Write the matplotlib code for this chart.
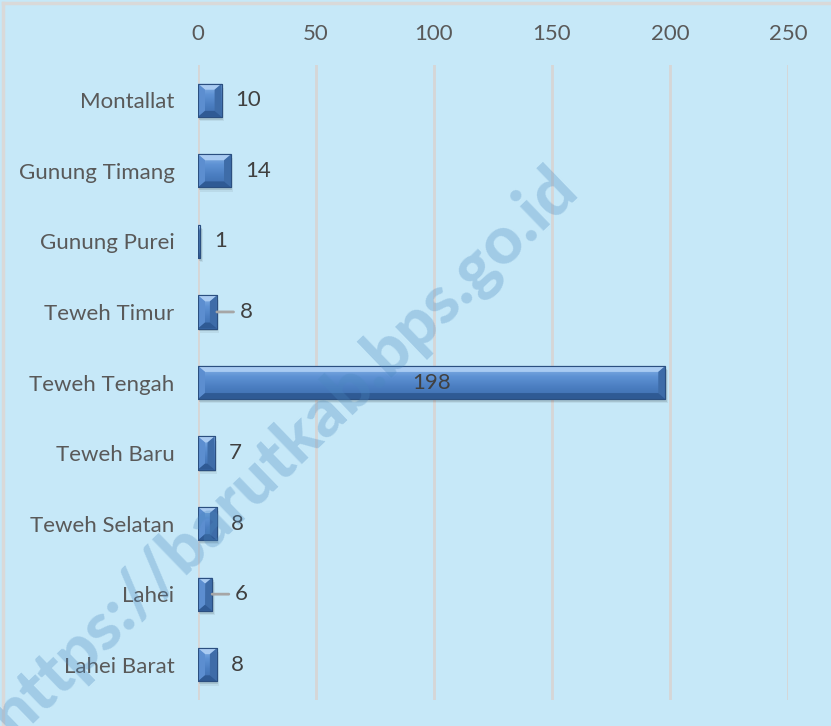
import numpy as np
import matplotlib
matplotlib.use("Agg")
import matplotlib.pyplot as plt
from matplotlib.patches import Polygon
from matplotlib.colors import LinearSegmentedColormap

plt.rcParams['font.family'] = ['Lato', 'DejaVu Sans']

# data
kecamatan = ["Montallat", "Gunung Timang", "Gunung Purei", "Teweh Timur",
             "Teweh Tengah", "Teweh Baru", "Teweh Selatan", "Lahei", "Lahei Barat"]
jumlah = [10, 14, 1, 8, 198, 7, 8, 6, 8]
xticks = [0, 50, 100, 150, 200, 250]
leader = [False, False, False, True, False, False, False, True, False]

bg = "#C6E8F8"
W, H = 831, 726
fig = plt.figure(figsize=(W / 100, H / 100), dpi=100, facecolor=bg)

# plot area in pixels
left, right, top, bottom = 198, 788, 65, 700
ax = fig.add_axes([left / W, 1 - bottom / H, (right - left) / W, (bottom - top) / H])
ax.set_facecolor(bg)

ypos = np.arange(len(kecamatan))
bh = 0.47
ax.set_xlim(0, 250)
ax.set_ylim(len(kecamatan) - 0.5, -0.5)

# grid
for t in xticks:
    ax.axvline(t, color="#D6D6D6", lw=2, zorder=0)

# shadow
ax.barh(ypos + 0.04, jumlah, height=bh, left=0.6, color="#000000", alpha=0.10, zorder=1)
ax.barh(ypos + 0.06, jumlah, height=bh, left=1.0, color="#000000", alpha=0.06, zorder=1)

bars = ax.barh(ypos, jumlah, height=bh, color="#4F82C4", edgecolor="#2E5486", lw=0.8, zorder=2)

pxx = (right - left) / 250.0
pxy = (bottom - top) / len(kecamatan)
cmap = LinearSegmentedColormap.from_list("face", ["#8DB7EA", "#5E92D4", "#4A7DC0", "#3D6DAD"])
grad = np.linspace(0, 1, 64).reshape(-1, 1)

for b in bars:
    x0, x1 = b.get_x(), b.get_x() + b.get_width()
    yt, yb = b.get_y(), b.get_y() + b.get_height()
    dx = min(7 / pxx, (x1 - x0) / 2)
    dy = 6 / pxy
    im = ax.imshow(grad, extent=[x0, x1, yb, yt], aspect="auto", cmap=cmap,
                   origin="upper", zorder=3)
    im.set_clip_path(b)
    faces = [
        ([(x0, yt), (x1, yt), (x1 - dx, yt + dy), (x0 + dx, yt + dy)], "#A9CBF2"),
        ([(x0, yt), (x0 + dx, yt + dy), (x0 + dx, yb - dy), (x0, yb)], "#5C8ED0"),
        ([(x1, yt), (x1, yb), (x1 - dx, yb - dy), (x1 - dx, yt + dy)], "#3E6CA8"),
        ([(x0, yb), (x1, yb), (x1 - dx, yb - dy), (x0 + dx, yb - dy)], "#2F5A94"),
    ]
    for pts, c in faces:
        ax.add_patch(Polygon(pts, closed=True, facecolor=c, edgecolor="none", zorder=4))
    ax.add_patch(Polygon([(x0, yt), (x1, yt), (x1, yb), (x0, yb)], closed=True,
                         facecolor="none", edgecolor="#2B4F80", lw=0.8, zorder=5))

ax.set_xlim(0, 250)
ax.set_ylim(len(kecamatan) - 0.5, -0.5)

# data labels
for i, v in enumerate(jumlah):
    if v > 100:
        ax.text(v / 2, i, str(v), ha="center", va="center", fontsize=16,
                color="#404040", zorder=6)
    elif leader[i]:
        ax.annotate("", xy=(v, i), xytext=(12, 0), textcoords="offset points",
                    arrowprops=dict(arrowstyle="-", color="#A6A6A6", lw=2,
                                    shrinkA=0, shrinkB=0), zorder=6)
        ax.annotate(str(v), xy=(v, i), xytext=(16.5, 0), textcoords="offset points",
                    ha="left", va="center", fontsize=16, color="#404040", zorder=6)
    else:
        ax.annotate(str(v), xy=(v, i), xytext=(10, 0), textcoords="offset points",
                    ha="left", va="center", fontsize=16, color="#404040", zorder=6)

ax.set_yticks(ypos)
ax.set_yticklabels(kecamatan)
ax.set_xticks(xticks)
ax.xaxis.tick_top()
ax.tick_params(axis="both", length=0, labelsize=16, labelcolor="#595959")
ax.tick_params(axis="y", pad=17)
ax.tick_params(axis="x", pad=15)
for s in ax.spines.values():
    s.set_visible(False)

# outer border (top / left)
fig.add_artist(plt.Line2D([3.5 / W, 3.5 / W], [0, 1 - 2.5 / H], color="#D9D9D9", lw=2.5))
fig.add_artist(plt.Line2D([3.5 / W, 1], [1 - 2.5 / H, 1 - 2.5 / H], color="#D9D9D9", lw=2.5))

# watermark (partly runs off the lower-left edge, as in the source)
fig.text(284 / W, 1 - 452 / H, "https://barutkab.bps.go.id", rotation=44,
         rotation_mode="anchor", ha="center", va="center", fontsize=48,
         fontweight="black", color="#4A88BE", alpha=0.3, zorder=10)

fig.savefig("out.png", dpi=100, facecolor=bg)
